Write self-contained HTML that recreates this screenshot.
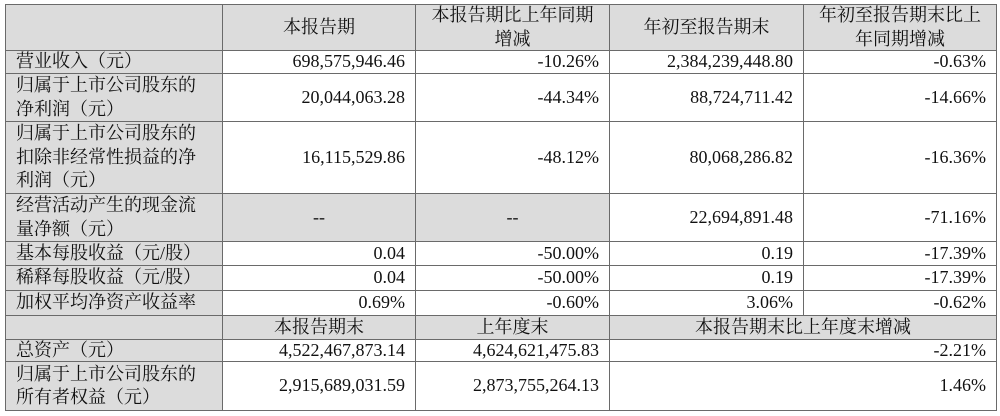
<!DOCTYPE html>
<html><head><meta charset="utf-8"><style>
html,body{margin:0;padding:0;background:#fff;width:1000px;height:416px;overflow:hidden;position:relative}
.c{position:absolute;box-sizing:border-box;border:1px solid #6a6a6a;display:flex;align-items:center;justify-content:flex-end;padding:0 10px;
font-family:"Liberation Serif","Noto Serif CJK SC",serif;font-size:18px;line-height:23.5px;color:#111;white-space:nowrap;background:#fff}
.l{justify-content:flex-start;background:#dcdcdc}
.h{justify-content:center;text-align:center;background:#dcdcdc}
.c.n{font-size:18px}
</style></head><body>
<div id="t"></div>
<script>
var R=[4,50,73,121,193,241,265,290,315,339,361,410];
var C=[5,222,415,609,803,996];
var rows=[
[["h",""],["h","本报告期"],["h","本报告期比上年同期<br>增减"],["h","年初至报告期末"],["h","年初至报告期末比上<br>年同期增减"]],
[["l","营业收入（元）"],["n","698,575,946.46"],["n","-10.26%"],["n","2,384,239,448.80"],["n","-0.63%"]],
[["l","归属于上市公司股东的<br>净利润（元）"],["n","20,044,063.28"],["n","-44.34%"],["n","88,724,711.42"],["n","-14.66%"]],
[["l","归属于上市公司股东的<br>扣除非经常性损益的净<br>利润（元）"],["n","16,115,529.86"],["n","-48.12%"],["n","80,068,286.82"],["n","-16.36%"]],
[["l","经营活动产生的现金流<br>量净额（元）"],["h n","--"],["h n","--"],["n","22,694,891.48"],["n","-71.16%"]],
[["l","基本每股收益（元/股）"],["n","0.04"],["n","-50.00%"],["n","0.19"],["n","-17.39%"]],
[["l","稀释每股收益（元/股）"],["n","0.04"],["n","-50.00%"],["n","0.19"],["n","-17.39%"]],
[["l","加权平均净资产收益率"],["n","0.69%"],["n","-0.60%"],["n","3.06%"],["n","-0.62%"]],
[["h",""],["h","本报告期末"],["h","上年度末"],["h","本报告期末比上年度末增减",2]],
[["l","总资产（元）"],["n","4,522,467,873.14"],["n","4,624,621,475.83"],["n","-2.21%",2]],
[["l","归属于上市公司股东的<br>所有者权益（元）"],["n","2,915,689,031.59"],["n","2,873,755,264.13"],["n","1.46%",2]]
];
var h="";
for(var i=0;i<rows.length;i++){var ci=0;for(var j=0;j<rows[i].length;j++){var c=rows[i][j],sp=c[2]||1;
var x=C[ci],w=C[ci+sp]-x+1,y=R[i],hh=R[i+1]-y+1;
h+='<div class="c '+c[0]+'" style="left:'+x+'px;top:'+y+'px;width:'+w+'px;height:'+hh+'px"><span>'+c[1]+'</span></div>';ci+=sp;}}
document.getElementById("t").innerHTML=h;
</script>
</body></html>
